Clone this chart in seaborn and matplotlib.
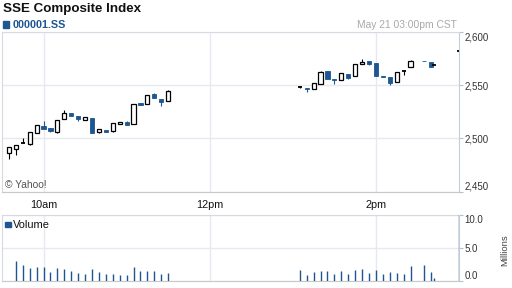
import matplotlib
matplotlib.use("Agg")
import matplotlib.pyplot as plt
import seaborn as sns
import pandas as pd
from matplotlib.patches import Rectangle
from matplotlib.ticker import FixedLocator, FixedFormatter

# ---------------- data ----------------
times = ["09:35", "09:40", "09:45", "09:50", "09:55", "10:00", "10:05", "10:10",
         "10:15", "10:20", "10:25", "10:30", "10:35", "10:40", "10:45", "10:50",
         "10:55", "11:00", "11:05", "11:10", "11:15", "11:20", "11:25", "11:30",
         "13:05", "13:10", "13:15", "13:20", "13:25", "13:30", "13:35", "13:40",
         "13:45", "13:50", "13:55", "14:00", "14:05", "14:10", "14:15", "14:20",
         "14:25", "14:35", "14:40", "14:42", "15:00"]
opens = [2486.5, 2489.7, 2495.3, 2494.4, 2504.7, 2511.9, 2509.4, 2506.0,
         2517.9, 2523.5, 2521.0, 2517.0, 2518.8, 2506.2, 2507.8, 2507.2,
         2513.2, 2515.6, 2513.2, 2533.5, 2532.3, 2541.7, 2537.3, 2535.1,
         2548.0, 2547.1, 2546.4, 2550.8, 2563.3, 2555.8, 2554.9, 2560.5,
         2558.6, 2569.6, 2572.4, 2570.6, 2558.6, 2557.4, 2552.7, 2563.6,
         2566.8, 2572.6, 2571.8, 2568.7, 2582.4]
highs = [2492.1, 2493.4, 2500.0, 2506.2, 2512.5, 2516.3, 2509.4, 2517.0,
         2526.6, 2523.5, 2521.0, 2519.8, 2518.8, 2508.5, 2507.8, 2514.4,
         2515.4, 2515.9, 2532.3, 2533.5, 2540.5, 2542.3, 2537.3, 2545.2,
         2548.9, 2547.1, 2551.8, 2563.3, 2563.3, 2555.8, 2561.2, 2560.5,
         2569.6, 2574.6, 2572.4, 2570.6, 2558.6, 2557.4, 2562.7, 2563.6,
         2573.7, 2572.6, 2571.8, 2568.7, 2582.4]
lows = [2480.8, 2484.0, 2495.3, 2493.4, 2504.7, 2509.1, 2506.0, 2505.3,
        2517.9, 2521.3, 2516.6, 2517.0, 2505.3, 2505.3, 2506.2, 2506.2,
        2513.2, 2512.8, 2513.2, 2531.3, 2532.3, 2538.2, 2530.7, 2535.1,
        2547.1, 2543.3, 2546.4, 2550.8, 2556.1, 2550.8, 2554.9, 2555.8,
        2558.6, 2569.6, 2568.7, 2558.9, 2557.4, 2549.9, 2552.7, 2559.8,
        2566.8, 2572.3, 2567.4, 2568.7, 2582.4]
closes = [2492.1, 2493.4, 2495.3, 2506.2, 2512.5, 2509.1, 2506.9, 2517.0,
          2523.5, 2521.3, 2517.9, 2519.8, 2505.3, 2508.5, 2506.2, 2514.4,
          2515.4, 2512.8, 2532.3, 2531.3, 2540.5, 2538.2, 2534.4, 2544.8,
          2548.0, 2546.1, 2551.8, 2562.1, 2556.1, 2554.6, 2561.2, 2557.0,
          2569.6, 2572.1, 2570.2, 2558.9, 2557.4, 2551.8, 2562.7, 2563.6,
          2573.0, 2572.3, 2567.4, 2568.7, 2582.4]
volumes = [0.0, 3.06, 2.45, 1.99, 2.14, 2.14, 1.38, 1.99,
           1.83, 1.53, 1.22, 1.07, 1.83, 1.38, 1.07, 1.07,
           0.92, 0.92, 2.14, 1.53, 1.53, 1.53, 1.07, 1.22,
           1.68, 0.92, 1.38, 1.53, 1.53, 1.07, 1.53, 1.07,
           1.68, 1.83, 1.22, 1.68, 1.07, 1.38, 1.22, 1.07,
           2.29, 2.45, 1.38, 0.46, 11.0]
price_ticks = [2450, 2500, 2550, 2600]
price_labels = ["2,450", "2,500", "2,550", "2,600"]
vol_ticks = [0, 5, 10]
vol_labels = ["0.0", "5.0", "10.0"]
time_ticks = ["10:00", "12:00", "14:00"]
time_labels = ["10am", "12pm", "2pm"]

# ---------------- style ----------------
sns.set_style("white")
plt.rcParams["font.family"] = ["Liberation Sans", "DejaVu Sans"]

BLUE = "#1d5690"
GRID = "#e6e9f0"
FRAME = "#d6dae1"

def to_min(s):
    h, m = s.split(":")
    return int(h) * 60 + int(m)

df = pd.DataFrame({"t": [to_min(s) for s in times], "open": opens, "high": highs,
                   "low": lows, "close": closes, "vol": volumes})
xt_major = [to_min(s) for s in time_ticks]
xt_minor = list(range(570, 901, 30))

W, H = 512, 288
fig = plt.figure(figsize=(W / 100, H / 100), dpi=100)

def rect(l, t, r, b):
    return [l / W, 1 - b / H, (r - l) / W, (b - t) / H]

ax = fig.add_axes(rect(2, 32, 459, 191.5))
axv = fig.add_axes(rect(2, 215, 459, 281))

for a in (ax, axv):
    a.set_xlim(570, 900)
    a.xaxis.set_major_locator(FixedLocator(xt_major))
    a.xaxis.set_minor_locator(FixedLocator(xt_minor))
    a.yaxis.tick_right()
    a.grid(True, which="major", color=GRID, lw=1.0, zorder=0)
    a.set_axisbelow(True)
    a.tick_params(axis="x", which="both", length=2.4, width=0.8, color="#a8a8a8",
                  direction="out")
    a.tick_params(axis="y", which="both", length=2.6, width=0.8, color="#b8c0cc",
                  labelsize=7, labelcolor="#333333", pad=1.5)
    for side in ("left", "top"):
        a.spines[side].set_color(FRAME)
        a.spines[side].set_linewidth(0.8)
    a.spines["right"].set_color("#c3ccd8")
    a.spines["right"].set_linewidth(0.8)
    a.spines["bottom"].set_color("#c8c8c8")
    a.spines["bottom"].set_linewidth(0.8)

# ---- candles ----
ax.set_ylim(2450, 2600)
bw = 3.0
for _, r in df.iterrows():
    if abs(r.close - r.open) < 0.05:
        col = "black"
        ax.vlines(r.t, r.low, r.high, color=col, lw=0.8, zorder=2)
        ax.hlines(r.close, r.t - bw / 2, r.t + bw / 2, color=col, lw=1.3, zorder=3)
    elif r.close > r.open:
        ax.vlines(r.t, r.low, r.high, color="black", lw=0.8, zorder=2)
        ax.bar(r.t, r.close - r.open, bottom=r.open, width=bw, facecolor="white",
               edgecolor="black", linewidth=0.9, zorder=3)
    else:
        ax.vlines(r.t, r.low, r.high, color=BLUE, lw=0.8, zorder=2)
        h = max(r.open - r.close, 0.6)
        ax.bar(r.t, h, bottom=r.close, width=bw, facecolor=BLUE,
               edgecolor=BLUE, linewidth=0.6, zorder=3)

ax.yaxis.set_major_locator(FixedLocator(price_ticks))
ax.yaxis.set_major_formatter(FixedFormatter(price_labels))
ax.xaxis.set_major_formatter(FixedFormatter(time_labels))
ax.tick_params(axis="x", labelsize=7.8, labelcolor="#111111", pad=3.5)

# ---- volume ----
axv.set_ylim(0, 10)
axv.vlines(df.t, 0, df.vol, color=BLUE, lw=1.0, zorder=3)
axv.yaxis.set_major_locator(FixedLocator(vol_ticks))
axv.yaxis.set_major_formatter(FixedFormatter(vol_labels))
axv.tick_params(axis="x", labelbottom=False)

fig.canvas.draw()
for a in (ax, axv):
    labs = a.get_yticklabels()
    labs[0].set_verticalalignment("bottom")
    labs[-1].set_verticalalignment("top")

# ---- texts ----
def fx(x):
    return x / W

def fy(y):
    return 1 - y / H

fig.text(fx(3), fy(11.7), "SSE Composite Index", fontsize=9.6, weight="bold",
         color="#111111", va="baseline")
fig.add_artist(Rectangle((fx(2.7), fy(27.7)), 6.7 / W, 7 / H,
                         transform=fig.transFigure, color=BLUE))
fig.text(fx(12.7), fy(27.6), "000001.SS", fontsize=7.8, weight="bold",
         color=BLUE, va="baseline")
fig.text(fx(457.3), fy(27.6), "May 21 03:00pm CST", fontsize=7.4,
         color="#a9a9a9", ha="right", va="baseline")
fig.text(fx(4.7), fy(188), "\u00a9 Yahoo!", fontsize=7.4, color="#555555",
         va="baseline")
fig.add_artist(Rectangle((fx(5), fy(227.3)), 5.5 / W, 5.6 / H,
                         transform=fig.transFigure, color=BLUE))
fig.text(fx(13), fy(228), "Volume", fontsize=7.9, color="#111111", va="baseline")
fig.text(fx(505), fy(250), "Millions", fontsize=6.8, color="#444444",
         rotation=90, ha="center", va="center")

fig.savefig("out.png", dpi=100)
